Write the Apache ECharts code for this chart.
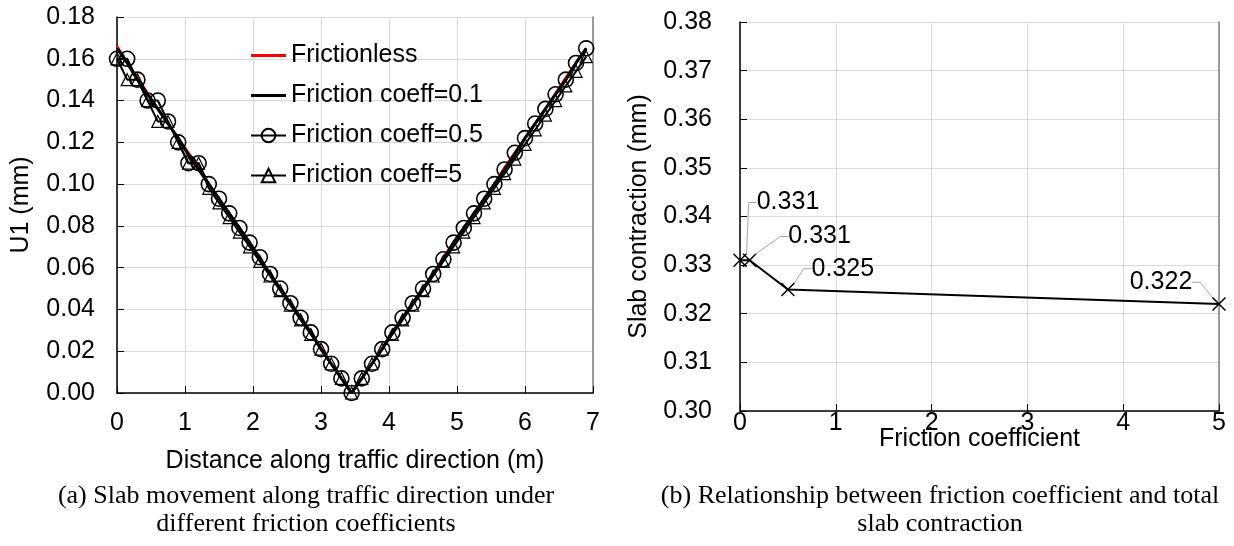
<!DOCTYPE html>
<html><head><meta charset="utf-8">
<script src="https://cdn.jsdelivr.net/npm/echarts@6/dist/echarts.min.js"></script>
<style>html,body{margin:0;padding:0;background:#fff}#c{width:1234px;height:546px}</style>
</head><body><div id="c"></div><script>
// ---------- data (left chart) ----------
const distance = [0,0.15,0.3,0.45,0.6,0.75,0.9,1.05,1.2,1.35,1.5,1.65,1.8,1.95,2.1,2.25,2.4,2.55,2.7,2.85,3,3.15,3.3,3.45,3.6,3.75,3.9,4.05,4.2,4.35,4.5,4.65,4.8,4.95,5.1,5.25,5.4,5.55,5.7,5.85,6,6.15,6.3,6.45,6.6,6.75,6.9];
const u1Frictionless = [0.166,0.158,0.151,0.1435,0.136,0.129,0.122,0.115,0.108,0.100,0.093,0.086,0.079,0.072,0.065,0.057,0.050,0.043,0.036,0.029,0.0215,0.014,0.007,0,0.007,0.014,0.0215,0.029,0.036,0.043,0.050,0.057,0.065,0.072,0.079,0.086,0.093,0.100,0.108,0.115,0.122,0.129,0.136,0.1435,0.151,0.158,0.165];
const u1Coeff01 = [0.165,0.158,0.150,0.143,0.136,0.129,0.122,0.114,0.107,0.100,0.093,0.086,0.079,0.072,0.064,0.057,0.050,0.043,0.036,0.029,0.021,0.014,0.007,0,0.007,0.014,0.021,0.029,0.036,0.043,0.050,0.057,0.064,0.072,0.079,0.086,0.093,0.100,0.107,0.114,0.122,0.129,0.136,0.143,0.150,0.158,0.165];
const u1Coeff05 = [0.16,0.16,0.15,0.14,0.14,0.13,0.12,0.11,0.11,0.10,0.093,0.086,0.079,0.072,0.065,0.057,0.050,0.043,0.036,0.029,0.021,0.014,0.007,0.000,0.007,0.014,0.021,0.029,0.036,0.043,0.050,0.057,0.064,0.072,0.079,0.086,0.093,0.100,0.107,0.115,0.122,0.129,0.136,0.143,0.150,0.158,0.165];
const u1Coeff5 = [0.16,0.15,0.15,0.14,0.13,0.13,0.12,0.11,0.11,0.098,0.091,0.084,0.077,0.070,0.063,0.056,0.049,0.042,0.035,0.028,0.021,0.014,0.007,0.000,0.007,0.014,0.021,0.028,0.035,0.042,0.049,0.056,0.063,0.070,0.077,0.084,0.091,0.098,0.105,0.112,0.119,0.126,0.133,0.140,0.147,0.154,0.161];
const seriesNames = ['Frictionless','Friction coeff=0.1','Friction coeff=0.5','Friction coeff=5'];
const leftYTicks = {min:0, max:0.18, interval:0.02};
const leftXTicks = {min:0, max:7, interval:1};

// ---------- data (right chart) ----------
const frictionCoeff = [0, 0.1, 0.5, 5];
const slabContraction = [0.331, 0.331, 0.325, 0.322];
const rightYTicks = {min:0.30, max:0.38, interval:0.01};
const rightXTicks = {min:0, max:5, interval:1};

// ---------- text ----------
const captionA = '(a) Slab movement along traffic direction under\ndifferent friction coefficients';
const captionB = '(b) Relationship between friction coefficient and total\nslab contraction';

// ---------- styling ----------
const FONT = '"Liberation Sans", Arial, sans-serif';
const SERIF = '"Liberation Serif", "Times New Roman", serif';
const FS = 25;
const labelShift = [{dx:48,dy:-33},{dx:70,dy:1},{dx:55,dy:4},{dx:-58,dy:3}];
const lineIcon = 'path://M0,0H35V3H0Z';

function zip(xs, ys){ return xs.map((x,i)=>[x, ys[i]]); }

function xAxisCfg(grid, ticks, name, gap, margin){
  return {gridIndex:grid, type:'value', min:ticks.min, max:ticks.max, interval:ticks.interval,
    name:name, nameLocation:'middle', nameGap:gap, nameMoveOverlap:false,
    nameTextStyle:{fontSize:FS, color:'#000', fontFamily:FONT},
    axisLine:{onZero:false, lineStyle:{color:'#000', width:1.5}},
    axisTick:{inside:true, length:7, lineStyle:{color:'#000', width:1}},
    axisLabel:{fontSize:FS, color:'#000', margin:margin, fontFamily:FONT},
    splitLine:{show:true, lineStyle:{color:'#d9d9d9', width:1}}};
}
function yAxisCfg(grid, ticks, name, gap, margin){
  return {gridIndex:grid, type:'value', min:ticks.min, max:ticks.max, interval:ticks.interval,
    name:name, nameLocation:'middle', nameGap:gap, nameMoveOverlap:false,
    nameTextStyle:{fontSize:FS, color:'#000', fontFamily:FONT},
    axisLine:{onZero:false, lineStyle:{color:'#000', width:1.5}},
    axisTick:{inside:true, length:7, lineStyle:{color:'#000', width:1}},
    axisLabel:{fontSize:FS, color:'#000', margin:margin, fontFamily:FONT, formatter:v=>v.toFixed(2)},
    splitLine:{show:true, lineStyle:{color:'#d9d9d9', width:1}}};
}
function borderAxis(grid){
  return {gridIndex:grid, type:'value', position:'right', min:0, max:1,
    axisLine:{show:true, onZero:false, lineStyle:{color:'#7f7f7f', width:1.5}},
    axisTick:{show:false}, axisLabel:{show:false}, splitLine:{show:false}};
}

const chart = echarts.init(document.getElementById('c'));
chart.setOption({
  animation:false,
  backgroundColor:'#fff',
  textStyle:{fontFamily:FONT, color:'#000'},
  grid:[{left:117, right:641, top:17, bottom:153},{left:740, right:15, top:22, bottom:135}],
  xAxis:[xAxisCfg(0, leftXTicks, 'Distance along traffic direction (m)', 56, 18),
         xAxisCfg(1, rightXTicks, 'Friction coefficient', 16, 0)],
  yAxis:[yAxisCfg(0, leftYTicks, 'U1 (mm)', 83, 22), borderAxis(0),
         yAxisCfg(1, rightYTicks, 'Slab contraction (mm)', 88, 28), borderAxis(1)],
  legend:{show:true, orient:'vertical', left:245, top:38, itemWidth:35, itemHeight:17, itemGap:15,
    textStyle:{fontSize:FS, color:'#000', fontFamily:FONT, lineHeight:25},
    data:[{name:seriesNames[0], icon:lineIcon},{name:seriesNames[1], icon:lineIcon},
          {name:seriesNames[2]},{name:seriesNames[3]}]},
  series:[
    {name:seriesNames[0], type:'line', xAxisIndex:0, yAxisIndex:0, data:zip(distance,u1Frictionless),
     symbol:'none', lineStyle:{color:'#ff0000', width:2.5}, itemStyle:{color:'#ff0000'}, z:2},
    {name:seriesNames[1], type:'line', xAxisIndex:0, yAxisIndex:0, data:zip(distance,u1Coeff01),
     symbol:'none', lineStyle:{color:'#000', width:3}, itemStyle:{color:'#000'}, z:3},
    {name:seriesNames[2], type:'line', xAxisIndex:0, yAxisIndex:0, data:zip(distance,u1Coeff05),
     symbol:'circle', symbolSize:15, showAllSymbol:true,
     lineStyle:{color:'#000', width:2}, itemStyle:{color:'rgba(0,0,0,0)', borderColor:'#000', borderWidth:1.6}, z:4},
    {name:seriesNames[3], type:'line', xAxisIndex:0, yAxisIndex:0, data:zip(distance,u1Coeff5),
     symbol:'triangle', symbolSize:12, showAllSymbol:true,
     lineStyle:{color:'#000', width:2}, itemStyle:{color:'rgba(0,0,0,0)', borderColor:'#000', borderWidth:1.2}, z:5},
    {name:'Slab contraction', type:'line', xAxisIndex:1, yAxisIndex:2, data:zip(frictionCoeff,slabContraction),
     symbol:'path://M0,0L10,10M10,0L0,10', symbolSize:13, showAllSymbol:true,
     lineStyle:{color:'#000', width:2}, itemStyle:{color:'#000', borderColor:'#000', borderWidth:1.5},
     label:{show:true, position:'top', distance:5, fontSize:FS, color:'#000', fontFamily:FONT,
       formatter:p=>p.value[1].toFixed(3)},
     labelLine:{show:true, length2:8, lineStyle:{color:'#a6a6a6', width:1}},
     labelLayout:p=>labelShift[p.dataIndex]}
  ],
  graphic:[
    {type:'text', x:306, y:482, silent:true,
     style:{text:captionA, fontSize:26, fontFamily:SERIF, fill:'#000', align:'center', verticalAlign:'top', lineHeight:28}},
    {type:'text', x:940, y:482, silent:true,
     style:{text:captionB, fontSize:26, fontFamily:SERIF, fill:'#000', align:'center', verticalAlign:'top', lineHeight:28}}
  ]
});
</script></body></html>
